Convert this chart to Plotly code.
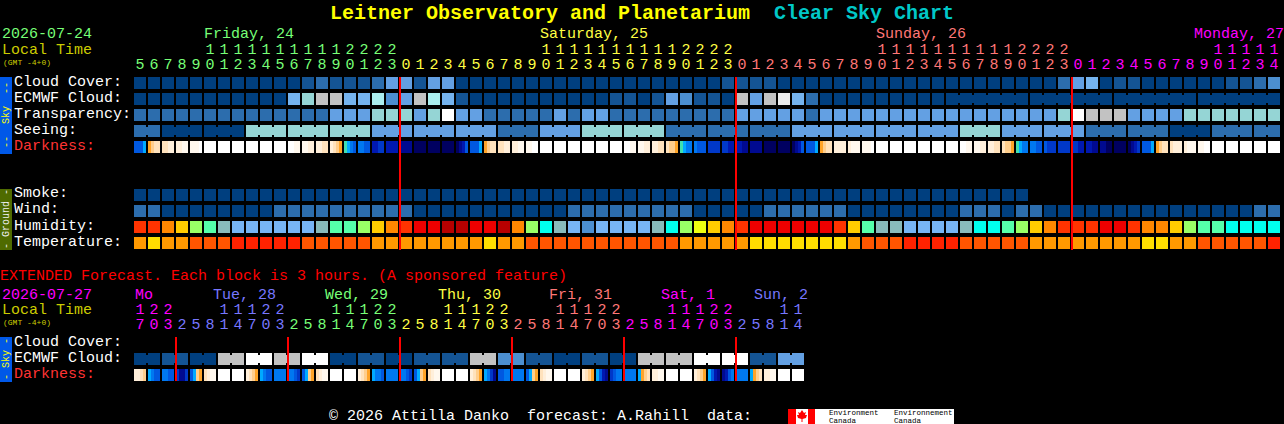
import plotly.graph_objects as go

W = 1284
H = 424

# cell grid of the chart, in pixels
LEFT = 134
TOP = 77
PITCH_X = 14
PITCH_Y = 16
CELL = 12

# Colours

sky_colors = ['#003F7F', '#145494', '#2C6DAD', '#4C8FD0', '#63A0E3', '#75B3EE',
              '#AAEEEE', '#95D5D5', '#C2C2C2', '#EBEBEB', '#FFFFFF']
humidity_colors = ['#B80000', '#EE0000', '#FF3300', '#FF8800', '#FFCC00', '#EEFF11',
                   '#99FF66', '#55FFAA', '#00FFEE', '#88BBBB', '#77B5F5', '#4C8FD0']
temperature_colors = ['#FF2200', '#FF5500', '#FF9900', '#FFDD00']
darkness_colors = ['#FFFFFF', '#FFF8EE', '#FFEFDA', '#FFE2BC', '#FFCE8C', '#FFA428',
                   '#40E0B0', '#00AAFF', '#0078F0', '#0058E0', '#0038C8', '#0018B0',
                   '#000A90', '#000060']

GREEN = '#77FF77'
YELLOW = '#FFFF44'
SALMON = '#FF7777'
MAGENTA = '#FF00FF'
PERI = '#7777FF'

# Main forecast, one block per hour

hours = [5, 6, 7, 8, 9, 10, 11, 12, 13, 14, 15, 16, 17, 18, 19, 20, 21, 22, 23,
         0, 1, 2, 3, 4, 5, 6, 7, 8, 9, 10, 11, 12, 13, 14, 15, 16, 17, 18, 19, 20, 21, 22, 23,
         0, 1, 2, 3, 4, 5, 6, 7, 8, 9, 10, 11, 12, 13, 14, 15, 16, 17, 18, 19, 20, 21, 22, 23,
         0, 1, 2, 3, 4, 5, 6, 7, 8, 9, 10, 11, 12, 13, 14]
hour_colors = [GREEN] * 19 + [YELLOW] * 24 + [SALMON] * 24 + [MAGENTA] * 15

cloud = [0, 0, 0, 0, 0, 0, 0, 0, 0, 0, 0, 0, 1, 2, 1, 1, 1, 2, 4, 4, 1, 4, 4,
         0, 0, 0, 0, 0, 0, 0, 0, 0, 0, 0, 0, 0, 0, 0, 0, 0, 0, 0, 1, 1, 1, 1,
         0, 0, 0, 0, 0, 0, 0, 0, 0, 0, 0, 0, 0, 0, 0, 0, 0, 0, 0, 0, 2, 4, 5, 0, 1, 1,
         0, 0, 0, 0, 0, 0, 1, 1, 2, 3]
ecmwf = [0, 0, 0, 0, 0, 0, 0, 0, 0, 0, 0, 5, 7, 8, 8, 5, 5, 6, 3, 4, 8, 6, 5, 1,
         0, 0, 0, 0, 0, 0, 0, 0, 0, 0, 1, 1, 0, 1, 4, 3, 1, 1, 0, 8, 4, 8, 9, 5, 2,
         0, 0, 0, 0, 0, 0, 0, 0, 0, 0, 0, 0, 0, 0, 0, 0, 0, 0, 0, 0, 0, 0, 0, 0, 0, 0,
         0, 0, 0, 0, 0, 0, 0]
ecmwf_runs = [(58, 63), (64, 69), (70, 75), (76, 81)]
transparency = [2, 2, 2, 2, 2, 2, 2, 2, 2, 2, 2, 2, 2, 2, 4, 4, 4, 7, 7, 7, 4, 7, 10, 4, 4,
                2, 2, 2, 2, 2, 4, 2, 4, 4, 2, 2, 2, 2, 2, 2, 2, 2, 2, 4, 4, 4, 4, 4, 2,
                4, 4, 4, 4, 4, 4, 4, 4, 4, 4, 4, 4, 4, 4, 4, 4, 4, 7, 10, 8, 8, 8,
                4, 4, 4, 4, 7, 7, 7, 7, 7, 7, 7]
seeing = [2, 2, 0, 0, 0, 0, 0, 0, 7, 7, 7, 7, 7, 7, 7, 7, 7, 4, 4, 4, 4, 4, 4, 4, 4, 4,
          2, 2, 2, 4, 4, 4, 7, 7, 7, 7, 7, 7, 2, 2, 2, 2, 2, 2, 2, 2, 2,
          4, 4, 4, 4, 4, 4, 4, 4, 4, 4, 4, 4, 7, 7, 7, 4, 4, 4, 4, 4, 4,
          2, 2, 2, 2, 2, 2, 0, 0, 0, 2, 2, 2, 2, 2]
seeing_runs = [(0, 1), (2, 4), (5, 7), (8, 10), (11, 13), (14, 16), (17, 19), (20, 22), (23, 25),
               (26, 28), (29, 31), (32, 34), (35, 37), (38, 40), (41, 43), (44, 46), (47, 49),
               (50, 52), (53, 55), (56, 58), (59, 61), (62, 64), (65, 67), (68, 70), (71, 73),
               (74, 76), (77, 79), (80, 81)]
# four samples across each block
darkness = [9, 9, 9, 7, 5, 4, 3, 3, 3, 3, 2, 2, 2, 2, 1, 1, 1, 1, 1, 0,
            0, 0, 0, 0, 0, 0, 0, 0, 0, 0, 0, 0, 0, 0, 0, 0, 0, 0, 0, 0, 0, 0, 0, 0,
            0, 0, 1, 1, 1, 1, 2, 2, 2, 2, 3, 3, 2, 3, 4, 5,
            6, 7, 8, 9, 8, 8, 9, 9, 11, 11, 10, 10, 11, 11, 11, 11, 12, 12, 12, 12,
            13, 13, 13, 13, 13, 13, 13, 13, 13, 13, 13, 13, 13, 12, 11, 9,
            9, 9, 9, 7, 5, 4, 3, 3, 3, 3, 2, 2, 2, 2, 1, 1, 1, 1, 0, 0,
            0, 0, 0, 0, 0, 0, 0, 0, 0, 0, 0, 0, 0, 0, 0, 0, 0, 0, 0, 0, 0, 0, 0, 0,
            0, 0, 1, 1, 1, 1, 2, 2, 2, 2, 3, 3, 3, 4, 4, 5,
            6, 7, 8, 8, 8, 9, 9, 9, 10, 10, 10, 10, 10, 10, 11, 11, 11, 11, 12, 12,
            12, 12, 12, 12, 13, 13, 13, 13, 13, 13, 13, 13, 13, 12, 11, 9,
            9, 9, 9, 7, 5, 4, 3, 3, 2, 2, 2, 2, 2, 1, 1, 1, 1, 1, 1, 0,
            0, 0, 0, 0, 0, 0, 0, 0, 0, 0, 0, 0, 0, 0, 0, 0, 0, 0, 0, 0, 0, 0, 0, 0,
            0, 0, 1, 1, 1, 1, 2, 2, 2, 2, 3, 3, 3, 4, 4, 5,
            6, 7, 8, 8, 8, 8, 9, 9, 9, 10, 10, 10, 10, 10, 10, 10, 10, 10, 11, 11,
            11, 11, 12, 12, 12, 12, 13, 13, 13, 13, 13, 13, 13, 12, 11, 10,
            9, 9, 9, 7, 5, 4, 3, 3, 3, 2, 2, 2, 2, 1, 1, 1, 1, 1, 0, 0,
            0, 0, 0, 0, 0, 0, 0, 0, 0, 0, 0, 0, 0, 0, 0, 0, 0, 0, 0, 0]
smoke = [0, 0, 0, 0, 0, 0, 0, 0, 0, 0, 0, 0, 0, 0, 0, 0, 0, 0, 0, 0, 0, 0, 0, 0, 0, 0, 0, 0, 0, 0, 0, 0,
         0, 0, 0, 0, 0, 0, 0, 0, 0, 0, 0, 0, 0, 0, 0, 0, 0, 0, 0, 0, 0, 0, 0, 0, 0, 0, 0, 0, 0, 0, 0, 0]
wind = [2, 2, 0, 0, 0, 0, 0, 0, 0, 0, 2, 2, 2, 2, 2, 2, 2, 2, 2, 2, 0,
        0, 0, 0, 0, 0, 0, 0, 0, 0, 0, 2, 2, 2, 2, 2, 2, 2, 2, 2, 0, 0, 0, 0, 0,
        2, 2, 2, 2, 2, 2, 0, 0, 0, 0, 0, 0, 0, 0, 2, 2, 2, 0, 2, 2,
        0, 0, 0, 0, 0, 0, 0, 0, 0, 0, 0, 0, 0, 0, 0, 2, 2]
humidity = [2, 2, 3, 4, 6, 7, 9, 10, 10, 10, 10, 10, 10, 9, 7, 7, 6, 4, 3, 2, 1,
            1, 0, 0, 1, 1, 0, 3, 6, 8, 9, 10, 11, 10, 10, 10, 10, 9, 8, 6, 5, 4, 3,
            2, 1, 1, 1, 1, 1, 1, 2, 4, 7, 9, 9, 10, 10, 10, 10, 9, 8, 8, 7, 6, 4, 3,
            2, 2, 2, 1, 1, 2, 3, 3, 4, 6, 7, 7, 8, 8, 8, 8]
temperature = [2, 3, 2, 2, 1, 1, 1, 0, 0, 0, 0, 0, 1, 1, 1, 1, 1, 2, 2, 2, 2,
               2, 2, 2, 2, 3, 2, 2, 1, 1, 1, 1, 1, 1, 1, 1, 1, 1, 1, 2, 2, 2, 2,
               2, 3, 3, 3, 3, 3, 3, 3, 2, 1, 1, 1, 0, 0, 0, 0, 1, 1, 1, 1, 1,
               2, 2, 2, 2, 2, 2, 2, 2, 3, 3, 2, 2, 1, 1, 1, 1, 1, 0]

# Extended forecast, one block per 3 hours

ext_hours = [17, 20, 23, 2, 5, 8, 11, 14, 17, 20, 23, 2, 5, 8, 11, 14, 17, 20, 23,
             2, 5, 8, 11, 14, 17, 20, 23, 2, 5, 8, 11, 14, 17, 20, 23,
             2, 5, 8, 11, 14, 17, 20, 23, 2, 5, 8, 11, 14]
ext_hour_colors = [MAGENTA] * 3 + [PERI] * 8 + [GREEN] * 8 + [YELLOW] * 8 + [SALMON] * 8 + [MAGENTA] * 8 + [PERI] * 5
ext_ecmwf = [0, 0, 1, 1, 0, 0, 8, 8, 10, 10, 8, 8, 10, 10, 0, 0, 1, 1, 0, 0,
             1, 1, 1, 1, 8, 8, 3, 3, 1, 1, 0, 0, 1, 1, 0, 0, 8, 8, 8, 8,
             10, 10, 10, 10, 1, 1, 4, 4]
ext_darkness = [2, 2, 3, 4, 7, 8, 9, 9, 8, 8, 9, 9, 10, 12, 12, 10, 9, 7, 4, 5, 3, 2, 1, 1,
                0, 0, 0, 0, 0, 0, 0, 0, 2, 3, 4, 5, 7, 8, 9, 9, 8, 8, 8, 8, 8, 8, 9, 10,
                9, 7, 4, 5, 3, 2, 1, 1, 0, 0, 0, 0, 0, 0, 0, 0, 2, 3, 4, 5, 7, 8, 8, 9,
                8, 8, 8, 8, 8, 8, 9, 10, 9, 7, 4, 5, 3, 2, 1, 1, 0, 0, 0, 0, 0, 0, 0, 0,
                2, 3, 4, 5, 7, 8, 10, 12, 9, 9, 8, 8, 8, 8, 8, 8, 9, 7, 4, 5, 3, 2, 1, 1,
                0, 0, 0, 0, 0, 0, 0, 0, 2, 3, 4, 5, 7, 9, 11, 12, 10, 9, 8, 8, 8, 8, 8, 8,
                7, 5, 4, 3, 2, 2, 1, 1, 0, 0, 0, 0, 0, 0, 0, 0, 2, 3, 4, 5, 7, 9, 11, 12,
                12, 11, 9, 8, 8, 8, 8, 8, 7, 5, 4, 3, 2, 2, 1, 1, 0, 0, 0, 0, 0, 0, 0, 0]

# Rows of blocks, counted in block rows below the top of the chart

rows = [(cloud, sky_colors, 1, 0),
        (ecmwf, sky_colors, 1, 1),
        (transparency, sky_colors, 1, 2),
        (seeing, sky_colors, 1, 3),
        (darkness, darkness_colors, 4, 4),
        (smoke, sky_colors, 1, 7),
        (wind, sky_colors, 1, 8),
        (humidity, humidity_colors, 1, 9),
        (temperature, temperature_colors, 1, 10),
        (ext_ecmwf, sky_colors, 1, 17.25),
        (ext_darkness, darkness_colors, 4, 18.25)]


def block_trace(values, colors, samples, row):
    n = len(values) // samples
    edges = []
    z = []
    for i in range(n):
        for k in range(samples):
            edges.append(i + k * CELL / samples / PITCH_X)
            z.append(values[i * samples + k])
        edges.append(i + CELL / PITCH_X)
        z.append(None)
    scale = []
    for k, c in enumerate(colors):
        scale += [[k / len(colors), c], [(k + 1) / len(colors), c]]
    return go.Heatmap(x=edges, y=[row, row + CELL / PITCH_Y], z=[z[:-1]],
                      colorscale=scale, zmin=-0.5, zmax=len(colors) - 0.5,
                      showscale=False, hoverinfo='skip')


def hour_trace(hrs, colors, row_tens, row_units):
    x = [i + CELL / 2 / PITCH_X for i in range(len(hrs))]
    units = go.Scatter(x=x, y=[row_units] * len(hrs), mode='text',
                       text=[str(h % 10) for h in hrs],
                       textfont=dict(family='Liberation Mono', size=15, color=colors),
                       hoverinfo='skip')
    tens = go.Scatter(x=x, y=[row_tens] * len(hrs), mode='text',
                      text=[str(h // 10) if h >= 10 else '' for h in hrs],
                      textfont=dict(family='Liberation Mono', size=15, color=colors),
                      hoverinfo='skip')
    return [tens, units]


def row_y(py):
    return (py - TOP) / PITCH_Y


def px(x):
    return x / W


def py(y):
    return 1 - y / H


fig = go.Figure()

for values, colors, samples, row in rows:
    fig.add_trace(block_trace(values, colors, samples, row))

for t in hour_trace(hours, hour_colors, row_y(50), row_y(65)):
    fig.add_trace(t)
for t in hour_trace(ext_hours, ext_hour_colors, row_y(310), row_y(325)):
    fig.add_trace(t)


# Small joins between the blocks of a run

def add_joins(values, palette, runs, row):
    for first, last in runs:
        for i in range(first, last):
            fig.add_shape(type='rect', layer='above', line_width=0,
                          fillcolor=palette[values[i]],
                          x0=i + CELL / PITCH_X, x1=i + 1,
                          y0=row + 2 / PITCH_Y, y1=row + (CELL - 2) / PITCH_Y)


add_joins(ecmwf, sky_colors, ecmwf_runs, 1)
add_joins(seeing, sky_colors, seeing_runs, 3)
add_joins(ext_ecmwf, sky_colors, [(i, i + 1) for i in range(0, len(ext_ecmwf), 2)], 17.25)

# Midnight lines

for i, h in enumerate(hours):
    if h == 0:
        fig.add_shape(type='line', layer='above', x0=i, x1=i,
                      y0=row_y(77), y1=row_y(250), line=dict(color='#FF0000', width=2))

for i, h in enumerate(ext_hours):
    if h == 2:
        fig.add_shape(type='line', layer='above', x0=i, x1=i,
                      y0=row_y(337), y1=row_y(381), line=dict(color='#FF0000', width=2))

# Side bars

fig.add_shape(type='rect', xref='paper', yref='paper', line_width=0, fillcolor='#0058E8',
              x0=px(0), x1=px(12), y0=py(77), y1=py(154))
fig.add_shape(type='rect', xref='paper', yref='paper', line_width=0, fillcolor='#4F6B00',
              x0=px(0), x1=px(12), y0=py(189), y1=py(250))
fig.add_shape(type='rect', xref='paper', yref='paper', line_width=0, fillcolor='#0058E8',
              x0=px(0), x1=px(12), y0=py(337), y1=py(382))

# Environment Canada logo

fig.add_shape(type='rect', xref='paper', yref='paper', line_width=0, fillcolor='#FFFFFF',
              x0=px(788), x1=px(954), y0=py(409), y1=py(424))
fig.add_shape(type='rect', xref='paper', yref='paper', line_width=0, fillcolor='#FF0000',
              x0=px(788), x1=px(796), y0=py(409), y1=py(424))
fig.add_shape(type='rect', xref='paper', yref='paper', line_width=0, fillcolor='#FF0000',
              x0=px(808), x1=px(815), y0=py(409), y1=py(424))
leaf = [(802, 410), (804, 413), (806, 412), (805, 415), (807, 415), (806, 418), (802.5, 419),
        (802.5, 422), (801.5, 422), (801.5, 419), (798, 418), (797, 415), (799, 415), (798, 412), (800, 413)]
path = 'M ' + ' L '.join(f'{px(x):.5f} {py(y):.5f}' for x, y in leaf) + ' Z'
fig.add_shape(type='path', xref='paper', yref='paper', line_width=0, fillcolor='#FF0000', path=path)


# Text

def label(x, y, text, color, size=15, family='Liberation Mono', angle=0, anchor='left'):
    fig.add_annotation(xref='paper', yref='paper', x=px(x), y=py(y), text=text,
                       showarrow=False, xanchor=anchor, yanchor='middle', align='left',
                       borderpad=0, textangle=angle,
                       font=dict(family=family, size=size, color=color))


label(329, 13, '<b>Leitner Observatory and Planetarium&nbsp;&nbsp;'
               '<span style="color:#00C8C8">Clear Sky Chart</span></b>', '#FFFF00', size=20)

label(1, 35, '2026-07-24', GREEN)
label(1, 50, 'Local Time', '#CCCC00')
label(2, 62, '(GMT -4+0)', '#CCCC00', size=8)
label(203, 35, 'Friday, 24', GREEN)
label(539, 35, 'Saturday, 25', YELLOW)
label(875, 35, 'Sunday, 26', SALMON)
label(1193, 35, 'Monday, 27', MAGENTA)

for y, name, color in [(82, 'Cloud Cover:', '#FFFFFF'), (98, 'ECMWF Cloud:', '#FFFFFF'),
                       (114, 'Transparency:', '#FFFFFF'), (130, 'Seeing:', '#FFFFFF'),
                       (146, 'Darkness:', '#FF3333'), (194, 'Smoke:', '#FFFFFF'),
                       (210, 'Wind:', '#FFFFFF'), (226, 'Humidity:', '#FFFFFF'),
                       (242, 'Temperature:', '#FFFFFF'), (342, 'Cloud Cover:', '#FFFFFF'),
                       (358, 'ECMWF Cloud:', '#FFFFFF'), (374, 'Darkness:', '#FF3333')]:
    label(13, y, name, color)

label(6, 115, '--&nbsp;&nbsp;Sky&nbsp;&nbsp;--', '#FFFF00', size=10, angle=-90, anchor='center')
label(6, 219, '-&nbsp;Ground&nbsp;-', '#EEEEEE', size=10, angle=-90, anchor='center')
label(6, 359, '-&nbsp;Sky&nbsp;-', '#FFFF00', size=10, angle=-90, anchor='center')

label(-1, 276, 'EXTENDED Forecast. Each block is 3 hours. (A sponsored feature)', '#FF0000')
label(1, 295, '2026-07-27', MAGENTA)
label(1, 310, 'Local Time', '#CCCC00')
label(2, 322, '(GMT -4+0)', '#CCCC00', size=8)
label(134, 295, 'Mo', MAGENTA)
label(212, 295, 'Tue, 28', PERI)
label(324, 295, 'Wed, 29', GREEN)
label(437, 295, 'Thu, 30', YELLOW)
label(548, 295, 'Fri, 31', SALMON)
label(660, 295, 'Sat, 1', MAGENTA)
label(753, 295, 'Sun, 2', PERI)

label(328, 416, '© 2026 Attilla Danko&nbsp;&nbsp;forecast: A.Rahill&nbsp;&nbsp;data:', '#FFFFFF')
label(828, 413, 'Environment', '#000000', size=7.5)
label(828, 420.5, 'Canada', '#000000', size=7.5)
label(893, 413, 'Environnement', '#000000', size=7.5)
label(893, 420.5, 'Canada', '#000000', size=7.5)

fig.update_layout(width=W, height=H, margin=dict(l=0, r=0, t=0, b=0),
                  paper_bgcolor='#000000', plot_bgcolor='#000000', showlegend=False,
                  xaxis=dict(visible=False, fixedrange=True,
                             range=[-LEFT / PITCH_X, (W - LEFT) / PITCH_X]),
                  yaxis=dict(visible=False, fixedrange=True,
                             range=[(H - TOP) / PITCH_Y, -TOP / PITCH_Y]))

fig.write_html("out.html", config=dict(displayModeBar=False),
               post_script="document.body.style.margin='0';"
                           "document.body.style.background='#000';"
                           "document.body.style.overflow='hidden';")
